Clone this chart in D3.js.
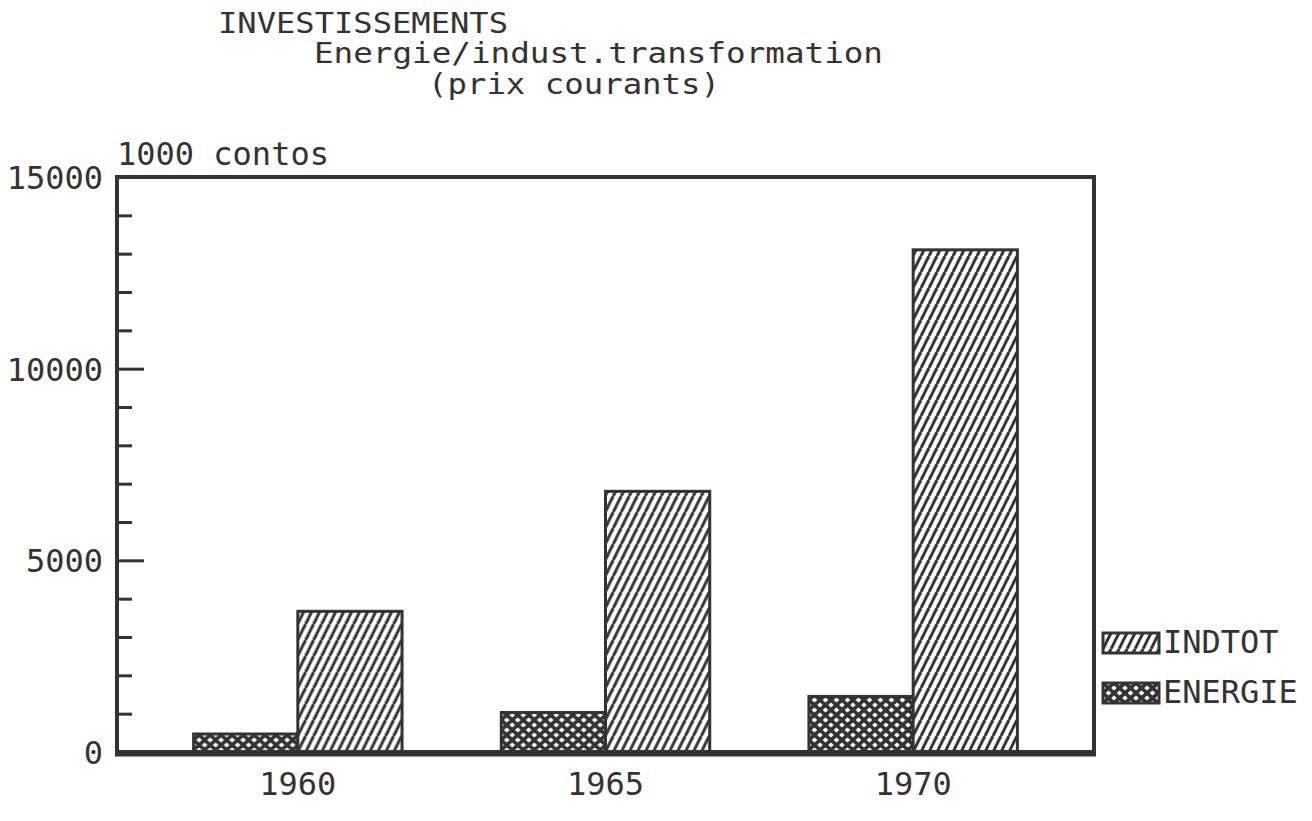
<!DOCTYPE html>
<html>
<head>
<meta charset="utf-8">
<script src="https://cdn.jsdelivr.net/npm/d3@7"></script>
<style>
  html, body { margin: 0; padding: 0; background: #fff; }
  svg { display: block; }
  text { font-family: "DejaVu Sans Mono", "Liberation Mono", monospace; fill: #333; }
</style>
</head>
<body>
<svg id="chart" width="1312" height="821"></svg>
<script>
// Investment by year, thousands of contos (current prices)
const years = ["1960", "1965", "1970"];
const seriesNames = ["ENERGIE", "INDTOT"];
const energie = [470, 1030, 1450];
const indtot = [3670, 6800, 13100];
const yTickLabels = [0, 5000, 10000, 15000];
const yMinorTicks = [1000, 2000, 3000, 4000, 6000, 7000, 8000, 9000, 11000, 12000, 13000, 14000];
const titleLines = ["INVESTISSEMENTS", "Energie/indust.transformation", "(prix courants)"];
const unitLabel = "1000 contos";

const ink = "#333";
const svg = d3.select("#chart");

const plot = { left: 117, right: 1094, top: 177, bottom: 752 };

// Hatch patterns
const defs = svg.append("defs");
const diag = defs.append("pattern")
  .attr("id", "pat-indtot")
  .attr("patternUnits", "userSpaceOnUse")
  .attr("width", 8).attr("height", 16);
diag.append("rect").attr("width", 8).attr("height", 16).attr("fill", "#fff");
[[-8, 16, 0, 0], [0, 16, 8, 0], [8, 16, 16, 0]].forEach(([x1, y1, x2, y2]) => {
  diag.append("line").attr("x1", x1).attr("y1", y1).attr("x2", x2).attr("y2", y2)
    .attr("stroke", ink).attr("stroke-width", 3);
});

const cross = defs.append("pattern")
  .attr("id", "pat-energie")
  .attr("patternUnits", "userSpaceOnUse")
  .attr("width", 11).attr("height", 10);
cross.append("rect").attr("width", 11).attr("height", 10).attr("fill", "#fff");
[[0, 0, 11, 10], [0, 10, 11, 0], [-11, 0, 0, 10], [11, 0, 22, 10], [-11, 10, 0, 0], [11, 10, 22, 0]]
  .forEach(([x1, y1, x2, y2]) => {
    cross.append("line").attr("x1", x1).attr("y1", y1).attr("x2", x2).attr("y2", y2)
      .attr("stroke", ink).attr("stroke-width", 3.6);
  });

const patternFor = { INDTOT: "url(#pat-indtot)", ENERGIE: "url(#pat-energie)" };

// Scales
const x = d3.scaleBand()
  .domain(years)
  .range([plot.left, plot.right])
  .paddingInner(0.3225)
  .paddingOuter(0.249);
const xs = d3.scaleBand()
  .domain(seriesNames)
  .range([0, x.bandwidth()]);
const y = d3.scaleLinear()
  .domain([0, 15000])
  .range([plot.bottom, plot.top]);

// Bars
const rows = years.map((yr, i) => ({ year: yr, ENERGIE: energie[i], INDTOT: indtot[i] }));
const groups = svg.append("g").selectAll("g")
  .data(rows).join("g")
  .attr("transform", d => `translate(${x(d.year)},0)`);
groups.selectAll("rect")
  .data(d => seriesNames.map(k => ({ key: k, value: d[k] })))
  .join("rect")
  .attr("x", d => xs(d.key))
  .attr("y", d => y(d.value))
  .attr("width", xs.bandwidth())
  .attr("height", d => y(0) - y(d.value))
  .attr("fill", d => patternFor[d.key])
  .attr("stroke", ink)
  .attr("stroke-width", 3);

// Frame
svg.append("rect")
  .attr("x", plot.left).attr("y", plot.top)
  .attr("width", plot.right - plot.left)
  .attr("height", plot.bottom - plot.top)
  .attr("fill", "none")
  .attr("stroke", ink)
  .attr("stroke-width", 4);
svg.append("line")
  .attr("x1", plot.left - 2).attr("x2", plot.right + 2)
  .attr("y1", plot.bottom + 2).attr("y2", plot.bottom + 2)
  .attr("stroke", ink).attr("stroke-width", 5);

// Inward ticks on the value axis
const minorAxis = d3.axisRight(y).tickValues(yMinorTicks).tickSize(15).tickFormat("");
const majorAxis = d3.axisRight(y).tickValues([5000, 10000]).tickSize(27).tickFormat("");
[minorAxis, majorAxis].forEach(ax => {
  const g = svg.append("g").attr("transform", `translate(${plot.left},0)`).call(ax);
  g.select(".domain").remove();
  g.selectAll("line").attr("stroke", ink).attr("stroke-width", 3);
});

// Value labels
const yLab = svg.append("g")
  .attr("transform", `translate(${plot.left - 10},0)`)
  .call(d3.axisLeft(y).tickValues(yTickLabels).tickSize(0).tickPadding(4).tickFormat(d3.format("d")));
yLab.select(".domain").remove();
yLab.selectAll("text")
  .attr("font-size", 32)
  .attr("font-family", "DejaVu Sans Mono")
  .attr("fill", ink)
  .attr("dy", "0.36em");

// Year labels
const xLab = svg.append("g")
  .attr("transform", `translate(0,${plot.bottom + 20})`)
  .call(d3.axisBottom(x).tickSize(0).tickPadding(0));
xLab.select(".domain").remove();
xLab.selectAll("text")
  .attr("font-size", 32)
  .attr("font-family", "DejaVu Sans Mono")
  .attr("fill", ink)
  .attr("dy", "0.71em");

// Titles (stacked lines, stretched to their set widths)
const titleSpec = [
  { x: 218, y: 33, w: 290 },
  { x: 314, y: 63, w: 569 },
  { x: 428, y: 94, w: 292 }
];
svg.append("g").selectAll("text")
  .data(titleLines).join("text")
  .attr("x", (d, i) => titleSpec[i].x)
  .attr("y", (d, i) => titleSpec[i].y)
  .attr("font-size", 28)
  .attr("textLength", (d, i) => titleSpec[i].w)
  .attr("lengthAdjust", "spacingAndGlyphs")
  .text(d => d);
svg.append("text").attr("x", plot.left).attr("y", 165).attr("font-size", 32).text(unitLabel);

// Legend
const legendItems = ["INDTOT", "ENERGIE"];
const legend = svg.append("g").selectAll("g")
  .data(legendItems).join("g")
  .attr("transform", (d, i) => `translate(1103,${633 + i * 50})`);
legend.append("rect")
  .attr("width", 56).attr("height", 20)
  .attr("fill", d => patternFor[d])
  .attr("stroke", ink).attr("stroke-width", 3);
legend.append("text")
  .attr("x", 60).attr("y", 20)
  .attr("font-size", 32)
  .text(d => d);
</script>
</body>
</html>
